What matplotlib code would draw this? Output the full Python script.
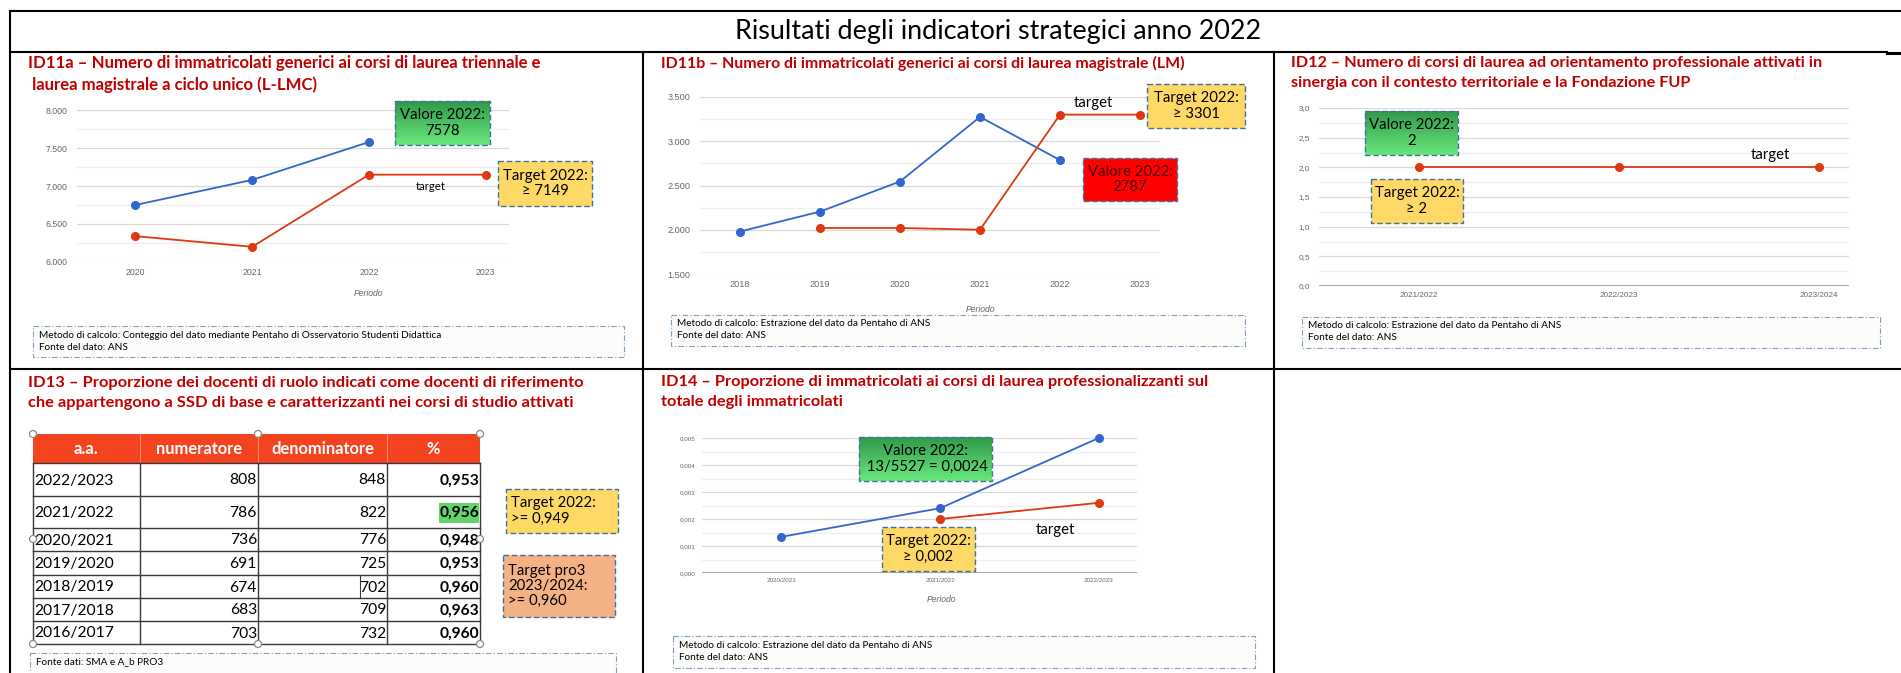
import numpy as np
import matplotlib
matplotlib.use("Agg")
import matplotlib.pyplot as plt
from matplotlib.patches import Rectangle, Circle
from matplotlib.colors import LinearSegmentedColormap
from matplotlib.ticker import FuncFormatter

## Data
id11a_years = ["2020", "2021", "2022", "2023"]
id11a_valore = [6750, 7080, 7578, None]
id11a_target = [6340, 6200, 7149, 7149]

id11b_years = ["2018", "2019", "2020", "2021", "2022", "2023"]
id11b_valore = [1980, 2205, 2545, 3275, 2787, None]
id11b_target = [None, 2020, 2020, 2000, 3301, 3301]

id12_years = ["2021/2022", "2022/2023", "2023/2024"]
id12_target = [2, 2, 2]

id14_years = ["2020/2021", "2021/2022", "2022/2023"]
id14_valore = [0.00134, 0.0024, 0.005]
id14_target = [None, 0.002, 0.0026]

id13_aa = ["2022/2023", "2021/2022", "2020/2021", "2019/2020", "2018/2019", "2017/2018", "2016/2017"]
id13_num = [808, 786, 736, 691, 674, 683, 703]
id13_den = [848, 822, 776, 725, 702, 709, 732]
id13_pct = [0.953, 0.956, 0.948, 0.953, 0.960, 0.963, 0.960]

W, H = 1901, 673
BLUE = "#3366cc"
RED = "#dc3912"
DARKRED = "#c00000"
EDGE = "#41719c"
CAL = ["Lato", "DejaVu Sans"]
ARIAL = ["Liberation Sans", "DejaVu Sans"]

fig = plt.figure(figsize=(W / 100, H / 100), dpi=100)
fig.patch.set_facecolor("white")
rend = fig.canvas.get_renderer()


def fit_size(s, width, **kw):
    # font size that makes string s about `width` pixels wide
    t = fig.text(0, 0, s, fontsize=10, **kw)
    w = t.get_window_extent(renderer=rend).width
    t.remove()
    return 10 * width / w


def axes_px(l, t, r, b):
    return fig.add_axes([l / W, 1 - b / H, (r - l) / W, (b - t) / H])


def line_chart(box, cats, valore, target, xlim, ylim, step, minor, fmt,
               tick_w, probe, ypad, xpad, dark_base=False):
    ax = axes_px(*box)
    x = np.arange(len(cats))
    if valore is not None:
        ax.plot(x, np.array(valore, dtype=float), color=BLUE, lw=1.3,
                marker="o", ms=5.5, zorder=3, clip_on=False)
    ax.plot(x, np.array(target, dtype=float), color=RED, lw=1.3,
            marker="o", ms=5.5, zorder=3, clip_on=False)
    ax.set_xlim(*xlim)
    ax.set_ylim(*ylim)
    ax.set_yticks(np.arange(ylim[0], ylim[1] + step / 2, step))
    ax.set_yticks(np.arange(ylim[0], ylim[1] + minor / 2, minor), minor=True)
    ax.yaxis.set_major_formatter(FuncFormatter(fmt))
    ax.set_xticks(x)
    ax.set_xticklabels(cats)
    ax.grid(axis="y", which="major", color="#d9d9d9", lw=0.9)
    ax.grid(axis="y", which="minor", color="#eeeeee", lw=0.9)
    ax.set_axisbelow(True)
    size = fit_size(probe, tick_w, family=ARIAL)
    ax.tick_params(axis="both", which="both", length=0, labelsize=size,
                   labelcolor="#666666")
    ax.tick_params(axis="y", pad=ypad)
    ax.tick_params(axis="x", pad=xpad)
    for lab in ax.get_xticklabels() + ax.get_yticklabels():
        lab.set_family(ARIAL)
    for s in ax.spines.values():
        s.set_visible(False)
    if dark_base:
        ax.axhline(ylim[0], color="#9e9e9e", lw=1.3, zorder=2)
    ax.patch.set_alpha(0)
    return ax


dot_thousands = lambda v, p: f"{int(v):,}".replace(",", ".")

line_chart((77, 110, 509, 262), id11a_years, id11a_valore, id11a_target,
           (-0.5, 3.2), (6000, 8000), 500, 250, dot_thousands, 22, "8.000", 7, 4.5)
line_chart((700, 97, 1160, 274), id11b_years, id11b_valore, id11b_target,
           (-0.5, 5.25), (1500, 3500), 500, 250, dot_thousands, 23, "3.500", 7, 4.5)
line_chart((1319, 108, 1849, 286), id12_years, None, id12_target,
           (-0.5, 2.15), (0, 3), 0.5, 0.25, lambda v, p: f"{v:.1f}".replace(".", ","),
           39, "2021/2022", 6.5, 4.5, dark_base=True)
line_chart((702, 438, 1137, 573), id14_years, id14_valore, id14_target,
           (-0.5, 2.24), (0, 0.005), 0.001, 0.0005, lambda v, p: f"{v:.3f}".replace(".", ","),
           30, "2020/2021", 4.5, 3.5, dark_base=True)

# overlay in pixel coordinates for frame, titles, notes and table
ov = fig.add_axes([0, 0, 1, 1], zorder=10)
ov.axis("off")

# Frame
lw_frame = 1.5
ov.plot([10, W], [11, 11], color="black", lw=lw_frame)
ov.plot([10, 10], [11, H], color="black", lw=lw_frame)
ov.plot([10, 1887], [52, 52], color="black", lw=lw_frame)
ov.plot([1887, W], [53, 53], color="black", lw=2.2)
ov.plot([643, 643], [52, H], color="black", lw=lw_frame)
ov.plot([1274, 1274], [52, H], color="black", lw=lw_frame)
ov.plot([10, W], [369, 369], color="black", lw=lw_frame)

# Main title
title = "Risultati degli indicatori strategici anno 2022"
ov.text(998, 32, title, fontsize=fit_size(title, 528, family=CAL), family=CAL,
        ha="center", va="center", color="black")

# Panel titles
panel_titles = [
    (28, 63, 85, 505, "ID11a – Numero di immatricolati generici ai corsi di laurea triennale e",
     " laurea magistrale a ciclo unico (L-LMC)"),
    (661, 63, None, 515, "ID11b – Numero di immatricolati generici ai corsi di laurea magistrale (LM)", None),
    (1291, 63, 83, 522, "ID12 – Numero di corsi di laurea ad orientamento professionale attivati in",
     "sinergia con il contesto territoriale e la Fondazione FUP"),
    (28, 383, 403, 546, "ID13 – Proporzione dei docenti di ruolo indicati come docenti di riferimento",
     "che appartengono a SSD di base e caratterizzanti nei corsi di studio attivati"),
    (661, 382, 402, 537, "ID14 – Proporzione di immatricolati ai corsi di laurea professionalizzanti sul",
     "totale degli immatricolati"),
]
for x, y1, y2, w, l1, l2 in panel_titles:
    fs = fit_size(l1, w * 1.02, family=CAL, weight="bold")
    ov.text(x, y1, l1, fontsize=fs, family=CAL, weight="bold", color=DARKRED, va="center")
    if l2:
        ov.text(x, y2, l2, fontsize=fs, family=CAL, weight="bold", color=DARKRED, va="center")

# "Periodo" axis titles
per_size = fit_size("Periodo", 30, family=ARIAL, style="italic")
for x, y in [(368, 293), (980, 309), (941, 600)]:
    ov.text(x, y, "Periodo", fontsize=per_size, family=ARIAL, style="italic",
            color="#666666", ha="center", va="center")

# "target" labels
tgt_size = fit_size("target", 39, family=CAL)
ov.text(431, 186, "target", fontsize=tgt_size * 30 / 39, family=CAL, ha="center", va="center")
for x, y in [(1093, 103), (1770, 155), (1055, 530)]:
    ov.text(x, y, "target", fontsize=tgt_size, family=CAL, ha="center", va="center")

# Note boxes
box_size = fit_size("Valore 2022:", 85, family=CAL)
green = LinearSegmentedColormap.from_list("g", ["#2f9a49", "#69e87c"])
grad = np.linspace(0, 1, 64).reshape(-1, 1)


def note(l, t, r, b, text, fill, tcolor="black", ha="center"):
    if fill == "green":
        ov.imshow(grad, cmap=green, extent=(l, r, b, t), origin="upper",
                  aspect="auto", zorder=11)
        ov.add_patch(Rectangle((l, t), r - l, b - t, fill=False, ec=EDGE,
                               lw=1.0, ls=(0, (4, 2)), zorder=12))
    else:
        ov.add_patch(Rectangle((l, t), r - l, b - t, fc=fill, ec=EDGE,
                               lw=1.0, ls=(0, (4, 2)), zorder=12))
    tx = (l + r) / 2 if ha == "center" else l + 5
    ov.text(tx, (t + b) / 2, text, fontsize=box_size, family=CAL, color=tcolor,
            ha=ha, va="center", linespacing=1.1, zorder=13)


note(395, 101, 490, 145, "Valore 2022:\n7578", "green")
note(498, 161, 592, 206, "Target 2022:\n≥ 7149", "#ffd966")
note(1147, 84, 1245, 128, "Target 2022:\n≥ 3301", "#ffd966")
note(1083, 158, 1177, 201, "Valore 2022:\n2787", "#ff0000", tcolor="#4a0000")
note(1365, 111, 1458, 155, "Valore 2022:\n2", "green")
note(1371, 179, 1463, 223, "Target 2022:\n≥ 2", "#ffd966")
note(506, 489, 618, 533, "Target 2022:\n>= 0,949", "#ffd966", ha="left")
note(503, 555, 615, 617, "Target pro3\n2023/2024:\n>= 0,960", "#f4b183", ha="left")
note(859, 437, 992, 481, "Valore 2022:\n 13/5527 = 0,0024", "green")
note(882, 527, 975, 571, "Target 2022:\n≥ 0,002", "#ffd966")

# Footer boxes
foot_size = fit_size("Metodo di calcolo: Conteggio del dato mediante Pentaho di Osservatorio Studenti Didattica",
                     405, family=CAL)
footers = [
    ((33, 326, 624, 357), ["Metodo di calcolo: Conteggio del dato mediante Pentaho di Osservatorio Studenti Didattica",
                           "Fonte del dato: ANS"], [335, 348]),
    ((671, 315, 1245, 346), ["Metodo di calcolo: Estrazione del dato da Pentaho di ANS",
                             "Fonte del dato: ANS"], [324, 336]),
    ((1302, 317, 1880, 348), ["Metodo di calcolo: Estrazione del dato da Pentaho di ANS",
                              "Fonte del dato: ANS"], [326, 338]),
    ((30, 653, 616, 674), ["Fonte dati: SMA e A_b PRO3"], [662]),
    ((673, 636, 1255, 668), ["Metodo di calcolo: Estrazione del dato da Pentaho di ANS",
                             "Fonte del dato: ANS"], [646, 658]),
]
for (l, t, r, b), lines, ys in footers:
    ov.add_patch(Rectangle((l, t), r - l, b - t, fc="#fcfdfb", ec="#7f9fc0",
                           lw=0.8, ls=(0, (5, 2, 1, 2)), zorder=11))
    for s, y in zip(lines, ys):
        ov.text(l + 6, y, s, fontsize=foot_size, family=CAL, va="center", zorder=12)

# ID13 table
col_x = [33, 140, 258, 387, 480]
row_y = [434, 463, 496, 528, 551, 575, 598, 621, 644]
headers = ["a.a.", "numeratore", "denominatore", "%"]
cell_size = fit_size("2022/2023", 80, family=CAL)
head_size = fit_size("numeratore", 87, family=CAL, weight="bold")

ov.add_patch(Rectangle((col_x[0], row_y[0]), col_x[-1] - col_x[0], row_y[1] - row_y[0],
                       fc="#f4431f", ec="none", zorder=11))
for i, h in enumerate(headers):
    ov.text((col_x[i] + col_x[i + 1]) / 2, (row_y[0] + row_y[1]) / 2, h, fontsize=head_size,
            family=CAL, weight="bold", color="white", ha="center", va="center", zorder=13)
for x in col_x[1:-1]:
    ov.plot([x, x], [row_y[0], row_y[1]], color="#ff8a6a", lw=0.8, zorder=12)

# highlight of the 2022 value
ov.add_patch(Rectangle((439, 503), 40, 20, fc="#63d46b", ec="none", zorder=11))

for k in range(len(id13_aa)):
    yc = (row_y[k + 1] + row_y[k + 2]) / 2 + 1
    ov.text(col_x[0] + 1, yc, id13_aa[k], fontsize=cell_size, family=CAL, va="center", zorder=13)
    ov.text(col_x[2] - 1, yc, str(id13_num[k]), fontsize=cell_size, family=CAL,
            ha="right", va="center", zorder=13)
    ov.text(col_x[3] - 1, yc, str(id13_den[k]), fontsize=cell_size, family=CAL,
            ha="right", va="center", zorder=13)
    ov.text(col_x[4] - 1, yc, f"{id13_pct[k]:.3f}".replace(".", ","), fontsize=cell_size,
            family=CAL, weight="bold", ha="right", va="center", zorder=13)

grid_c = "#3a3a3a"
for y in row_y[1:]:
    ov.plot([col_x[0], col_x[-1]], [y, y], color=grid_c, lw=1.0, zorder=12)
for x in col_x:
    ov.plot([x, x], [row_y[1], row_y[-1]], color=grid_c, lw=1.0, zorder=12)
ov.plot([360, 360], [575, 598], color=grid_c, lw=0.8, zorder=12)

# selection handles around the table
for hx, hy in [(33, 434), (258, 434), (480, 434), (33, 539), (480, 539),
               (33, 644), (258, 644), (480, 644)]:
    ov.add_patch(Circle((hx, hy), 3.5, fc="white", ec="#8a8a8a", lw=0.9, zorder=14))

ov.set_xlim(0, W)
ov.set_ylim(H, 0)

plt.savefig("out.png", dpi=100, facecolor="white")
